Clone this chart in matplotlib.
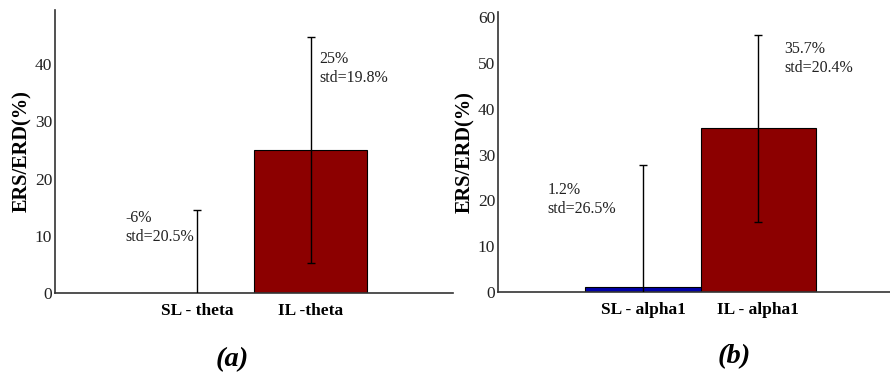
import matplotlib
matplotlib.use('Agg')
import matplotlib.pyplot as plt
import numpy as np

plt.rcParams['font.family'] = ['Liberation Serif', 'DejaVu Serif']

# panel (a): theta band
cats_a = ['SL - theta', 'IL -theta']
mean_a = [-6.0, 25.0]
std_a  = [20.5, 19.8]

# panel (b): alpha1 band
cats_b = ['SL - alpha1', 'IL - alpha1']
mean_b = [1.2, 35.7]
std_b  = [26.5, 20.4]

bar_colors = ['#0000a8', '#8c0000']

fig = plt.figure(figsize=(8.9, 3.76), dpi=100)
ax_a = fig.add_axes([55/890, 1-293/376, 398/890, 283/376])
ax_b = fig.add_axes([498/890, 1-292/376, 405/890, 280/376])

def panel(ax, cats, mean, std, ylim, yticks, note_xy):
    x = np.arange(1, len(cats) + 1)
    ax.bar(x, mean, width=1.0, color=bar_colors, edgecolor='black', lw=0.8,
           zorder=2)
    ax.errorbar(x, mean, yerr=std, fmt='none', ecolor='black', elinewidth=1.0,
                capsize=3, capthick=1.0, zorder=3)
    for m, s, (tx, ty) in zip(mean, std, note_xy):
        ax.text(tx, ty, f'{m:g}%\nstd={s:g}%', fontsize=11.5, va='center',
                ha='left', color='#222222', linespacing=1.25)
    ax.set_xlim(-0.26, 3.26)
    ax.set_ylim(*ylim)
    ax.set_yticks(yticks)
    ax.set_xticks(x)
    ax.set_xticklabels(cats, fontsize=14.5, fontweight='bold')
    ax.tick_params(length=0, labelsize=12.5, pad=2, labelcolor='#222222')
    ax.tick_params(axis='x', pad=7, labelcolor='black')
    for sp in ('top', 'right'):
        ax.spines[sp].set_visible(False)
    for sp in ('left', 'bottom'):
        ax.spines[sp].set_color('#333333')
        ax.spines[sp].set_linewidth(1.2)
    ax.set_ylabel('ERS/ERD(%)', fontsize=14.7, fontweight='bold', labelpad=2)

panel(ax_a, cats_a, mean_a, std_a, (0, 49.5), [0, 10, 20, 30, 40],
      [(0.36, 11.4), (2.08, 39.3)])
panel(ax_b, cats_b, mean_b, std_b, (0, 61.1), [0, 10, 20, 30, 40, 50, 60],
      [(0.17, 20.1), (2.23, 50.9)])

fig.text(232/890, 1-360/376, '(a)', fontsize=20.5, fontweight='bold',
         fontstyle='italic', ha='center', va='center')
fig.text(734/890, 1-357/376, '(b)', fontsize=20.5, fontweight='bold',
         fontstyle='italic', ha='center', va='center')

fig.savefig('out.png', dpi=100)
